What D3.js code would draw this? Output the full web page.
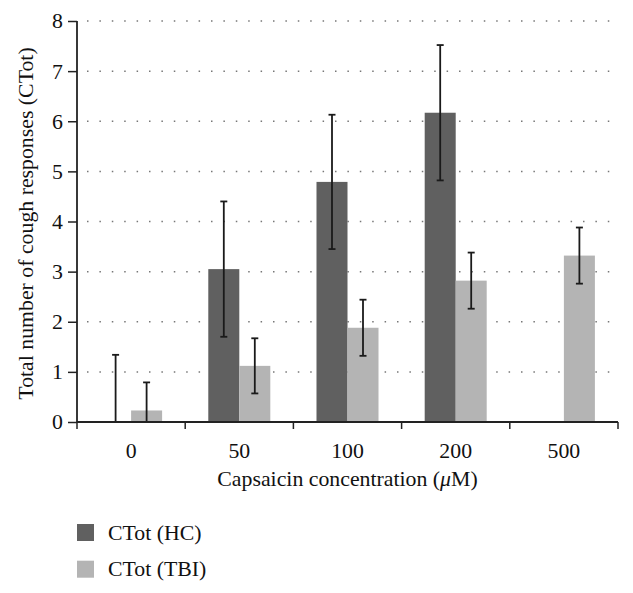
<!DOCTYPE html>
<html>
<head>
<meta charset="utf-8">
<script src="https://cdn.jsdelivr.net/npm/d3@7"></script>
<style>
  html, body { margin: 0; padding: 0; background: #fff; }
  svg text { font-family: "Liberation Serif", "DejaVu Serif", serif; fill: #111; }
</style>
</head>
<body>
<svg id="chart" width="633" height="593"></svg>
<script>
// ---- Data ----
const categories = ["0", "50", "100", "200", "500"];
const seriesNames = ["CTot (HC)", "CTot (TBI)"];
const hcMeans = [0, 3.05, 4.79, 6.17, null];
const hcErrors = [1.34, 1.35, 1.34, 1.35, null];
const tbiMeans = [0.23, 1.12, 1.88, 2.82, 3.32];
const tbiErrors = [0.56, 0.55, 0.56, 0.56, 0.56];
const yTicks = [0, 1, 2, 3, 4, 5, 6, 7, 8];
const xTitleParts = ["Capsaicin concentration (", "\u03BC", "M)"];
const yTitle = "Total number of cough responses (CTot)";

const colors = ["#606060", "#b4b4b4"];
const FS = 21.8;

const svg = d3.select("#chart");
const pLeft = 77, pRight = 618, pTop = 21, pBottom = 422;

const x = d3.scaleBand().domain(categories).range([pLeft, pRight]).paddingInner(0).paddingOuter(0);
const xs = d3.scaleBand().domain([0, 1]).range([0, x.bandwidth()]).paddingInner(0).paddingOuter(0.745);
const y = d3.scaleLinear().domain([0, 8]).range([pBottom, pTop]);

// grid
svg.append("g").selectAll("line").data(yTicks.filter(d => d > 0)).join("line")
  .attr("x1", pLeft + 10).attr("x2", pRight)
  .attr("y1", d => y(d)).attr("y2", d => y(d))
  .attr("stroke", "#777").attr("stroke-width", 1.5)
  .attr("stroke-dasharray", "1.5,10.9");

// build rows
const rows = [];
categories.forEach((c, i) => {
  [[hcMeans, hcErrors], [tbiMeans, tbiErrors]].forEach(([m, e], s) => {
    if (m[i] !== null) rows.push({ cat: c, s, v: m[i], err: e[i] });
  });
});

// bars
svg.append("g").selectAll("rect").data(rows.filter(d => d.v > 0)).join("rect")
  .attr("x", d => x(d.cat) + xs(d.s))
  .attr("width", xs.bandwidth())
  .attr("y", d => y(d.v))
  .attr("height", d => y(0) - y(d.v))
  .attr("fill", d => colors[d.s]);

// error bars
const eg = svg.append("g").attr("stroke", "#1a1a1a").attr("stroke-width", 1.8);
rows.forEach(d => {
  const cx = x(d.cat) + xs(d.s) + xs.bandwidth() / 2;
  const hi = d.v + d.err, lo = Math.max(0, d.v - d.err);
  eg.append("line").attr("x1", cx).attr("x2", cx).attr("y1", y(hi)).attr("y2", y(lo));
  eg.append("line").attr("x1", cx - 3.5).attr("x2", cx + 3.5).attr("y1", y(hi)).attr("y2", y(hi));
  if (d.v - d.err > 0)
    eg.append("line").attr("x1", cx - 3.5).attr("x2", cx + 3.5).attr("y1", y(lo)).attr("y2", y(lo));
});

// y axis
const yAxis = svg.append("g").attr("transform", `translate(${pLeft},0)`)
  .call(d3.axisLeft(y).tickValues(yTicks).tickFormat(d3.format("d")).tickSize(9).tickPadding(5));
yAxis.select(".domain").attr("stroke", "#222").attr("stroke-width", 1.8).attr("d", `M0,${pBottom}V${pTop}`);
yAxis.selectAll(".tick line").attr("stroke", "#222").attr("stroke-width", 1.5);
yAxis.selectAll(".tick text").attr("font-size", FS).attr("font-family", "Liberation Serif").attr("fill", "#111");

// x axis
const xAxis = svg.append("g").attr("transform", `translate(0,${pBottom})`)
  .call(d3.axisBottom(x).tickSize(0).tickPadding(21));
xAxis.select(".domain").attr("stroke", "#222").attr("stroke-width", 1.8).attr("d", `M${pLeft},0H${pRight}`);
xAxis.selectAll(".tick text").attr("font-size", FS).attr("font-family", "Liberation Serif").attr("fill", "#111");
// boundary ticks
const bounds = categories.map(c => x(c)).concat([x(categories[categories.length - 1]) + x.bandwidth()]);
xAxis.append("g").selectAll("line").data(bounds).join("line")
  .attr("x1", d => d).attr("x2", d => d).attr("y1", 0).attr("y2", 7)
  .attr("stroke", "#222").attr("stroke-width", 1.5);

// titles
const xt = svg.append("text").attr("x", (pLeft + pRight) / 2).attr("y", 486)
  .attr("text-anchor", "middle").attr("font-size", FS);
xTitleParts.forEach((t, i) => xt.append("tspan").attr("font-style", i === 1 ? "italic" : "normal").text(t));
svg.append("text").attr("transform", `translate(33,${(pTop + pBottom) / 2 + 2}) rotate(-90)`)
  .attr("text-anchor", "middle").attr("font-size", FS).text(yTitle);

// legend
const lg = svg.append("g");
seriesNames.forEach((n, i) => {
  lg.append("rect").attr("x", 77).attr("y", 524 + i * 36.7).attr("width", 17).attr("height", 17).attr("fill", colors[i]);
  lg.append("text").attr("x", 108).attr("y", 539.5 + i * 36.7).attr("font-size", FS).text(n);
});
</script>
</body>
</html>
